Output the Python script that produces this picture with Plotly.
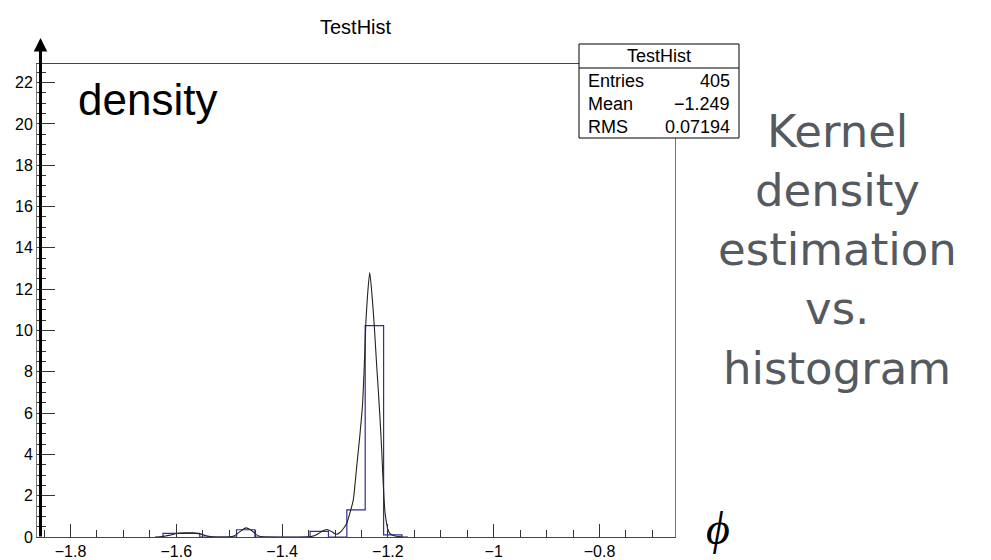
import plotly.graph_objects as go

# ---------------- data ----------------
bin_edges = [-1.6251, -1.5904, -1.5556, -1.5209, -1.4861, -1.4514, -1.4166,
             -1.3819, -1.3471, -1.3124, -1.2776, -1.2429, -1.2081, -1.1734]
bin_density = [0.18, 0.18, 0.0, 0.0, 0.35, 0.0, 0.0, 0.0, 0.27, 0.0, 1.31, 10.23, 0.10]

kde_x = [-1.6403, -1.6270, -1.6119, -1.5987, -1.5836, -1.5684, -1.5552, -1.5439,
         -1.5325, -1.5174, -1.5023, -1.4909, -1.4796, -1.4682, -1.4569, -1.4474,
         -1.4380, -1.4267, -1.3567, -1.3454, -1.3340, -1.3246, -1.3151, -1.3057,
         -1.2981, -1.2906, -1.2830, -1.2779, -1.2749, -1.2703, -1.2654, -1.2590,
         -1.2527, -1.2480, -1.2446, -1.2420, -1.2389, -1.2344, -1.2295, -1.2257,
         -1.2212, -1.2174, -1.2144, -1.2117, -1.2098, -1.2074, -1.2055, -1.2027,
         -1.1998, -1.1960, -1.1866, -1.1752, -1.1620]
kde_y = [0.0, 0.02, 0.09, 0.17, 0.20, 0.20, 0.15, 0.06,
         0.01, 0.0, 0.0, 0.05, 0.26, 0.44, 0.30, 0.09,
         0.01, 0.0, 0.0, 0.02, 0.12, 0.28, 0.36, 0.25,
         0.13, 0.22, 0.45, 0.65, 0.89, 1.30, 1.80, 3.40,
         5.00, 6.40, 8.30, 10.20, 11.55, 12.80, 11.55, 10.20,
         8.30, 6.80, 5.50, 4.20, 3.10, 1.90, 1.20, 0.70,
         0.35, 0.16, 0.05, 0.015, 0.0]

x_tick_vals = [-1.8, -1.6, -1.4, -1.2, -1.0, -0.8]
x_tick_text = ["\u22121.8", "\u22121.6", "\u22121.4", "\u22121.2", "\u22121", "\u22120.8"]
y_tick_vals = [0, 2, 4, 6, 8, 10, 12, 14, 16, 18, 20, 22]
y_tick_text = [str(v) for v in y_tick_vals]

x_range = [-1.8633, -0.6573]
y_range = [0, 22.9]

stats_title = "TestHist"
stats_labels = ["Entries", "Mean", "RMS"]
stats_values = ["405", "\u22121.249", "0.07194"]
caption_lines = ["Kernel", "density", "estimation", "vs.", "histogram"]

# ---------------- figure ----------------
hist_x = [bin_edges[0]] + bin_edges
hist_y = [0.0] + bin_density + [0.0]

fig = go.Figure()
fig.add_trace(go.Scatter(x=hist_x, y=hist_y, mode="lines", line_shape="hv",
                         line=dict(color="#2b2f9b", width=1.2),
                         hoverinfo="skip", showlegend=False))
fig.add_trace(go.Scatter(x=kde_x, y=kde_y, mode="lines", line_shape="spline",
                         line=dict(color="#222222", width=1.1, smoothing=0.6),
                         hoverinfo="skip", showlegend=False))

FONT = "Liberation Sans, Arial, Helvetica, sans-serif"

fig.update_layout(
    width=991, height=560,
    margin=dict(l=37, r=316, t=64, b=23, autoexpand=False),
    paper_bgcolor="white", plot_bgcolor="white",
    font=dict(family=FONT, color="black"),
    showlegend=False,
)
fig.update_xaxes(range=x_range, showgrid=False, zeroline=False, automargin=False,
                 showline=True, linecolor="#444444", linewidth=1, mirror=True,
                 tickmode="array", tickvals=x_tick_vals, ticktext=x_tick_text,
                 ticks="inside", ticklen=13, tickwidth=1, tickcolor="#333333",
                 tickfont=dict(family=FONT, size=16, color="black"),
                 minor=dict(tickmode="linear", tick0=-1.8, dtick=0.05,
                            ticks="inside", ticklen=7, tickwidth=1,
                            tickcolor="#333333", showgrid=False))
fig.update_yaxes(range=y_range, showgrid=False, zeroline=False, automargin=False,
                 showline=True, linecolor="#777777", linewidth=1, mirror=True,
                 tickmode="array", tickvals=y_tick_vals, ticktext=y_tick_text,
                 ticks="inside", ticklen=18, tickwidth=1, tickcolor="#333333",
                 tickfont=dict(family=FONT, size=16, color="black"),
                 minor=dict(tickmode="linear", tick0=0, dtick=0.5,
                            ticks="inside", ticklen=9, tickwidth=1,
                            tickcolor="#333333", showgrid=False))

# plot-area pixel helpers (decoration placement only)
L, R, T, B = 37, 675, 64, 537
def px(xp):
    return (xp - L) / (R - L)
def py(yp):
    return (B - yp) / (B - T)

# stats box
fig.add_shape(type="rect", xref="paper", yref="paper",
              x0=px(579), x1=px(739), y0=py(138), y1=py(44),
              line=dict(color="black", width=1), fillcolor="white", layer="above")
fig.add_shape(type="line", xref="paper", yref="paper",
              x0=px(579), x1=px(739), y0=py(68), y1=py(68),
              line=dict(color="black", width=1), layer="above")
fig.add_annotation(xref="paper", yref="paper", x=px(659), y=py(56),
                   text=stats_title, showarrow=False, xanchor="center", yanchor="middle",
                   font=dict(family=FONT, size=18, color="black"))
for i, (lab, val) in enumerate(zip(stats_labels, stats_values)):
    yy = py(81 + 23 * i)
    fig.add_annotation(xref="paper", yref="paper", x=px(586), y=yy, text=lab,
                       showarrow=False, xanchor="left", yanchor="middle",
                       font=dict(family=FONT, size=18, color="black"))
    fig.add_annotation(xref="paper", yref="paper", x=px(732), y=yy, text=val,
                       showarrow=False, xanchor="right", yanchor="middle",
                       font=dict(family=FONT, size=18, color="black"))

# title
fig.add_annotation(xref="paper", yref="paper", x=0.5, y=py(27), text="TestHist",
                   showarrow=False, xanchor="center", yanchor="middle",
                   font=dict(family=FONT, size=20, color="black"))

# thick y-axis arrow
fig.add_annotation(xref="paper", yref="paper", x=px(40.5), y=py(38),
                   ax=0, ay=500, axref="pixel", ayref="pixel", text="",
                   showarrow=True, arrowhead=2, arrowwidth=3, arrowsize=0.9,
                   arrowcolor="black", standoff=0, startstandoff=0)

# "density" label
fig.add_annotation(xref="paper", yref="paper", x=px(76), y=py(100), text="density",
                   showarrow=False, xanchor="left", yanchor="middle",
                   font=dict(family=FONT, size=44, color="black"))

# phi axis label
fig.add_annotation(xref="paper", yref="paper", x=px(718), y=py(528), text="\u03d5",
                   showarrow=False, xanchor="center", yanchor="middle",
                   font=dict(family="Liberation Serif, DejaVu Serif, serif",
                             size=46, color="black", style="italic"))

# side caption
for i, line in enumerate(caption_lines):
    fig.add_annotation(xref="paper", yref="paper", x=px(837), y=py(131 + 59.3 * i),
                       text=line, showarrow=False, xanchor="center", yanchor="middle",
                       font=dict(family="DejaVu Sans, Verdana, sans-serif", size=45,
                                 color="#545a60"))

fig.write_html("out.html")
